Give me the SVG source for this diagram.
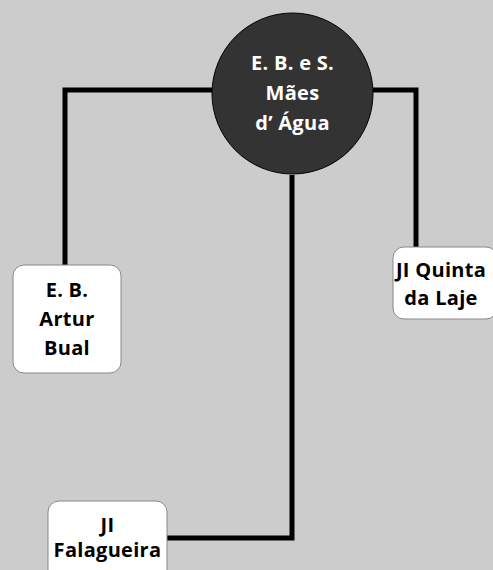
<svg xmlns="http://www.w3.org/2000/svg" width="493" height="570" viewBox="0 0 493 570">
<style>
.conn{fill:none;stroke:#000;stroke-width:5;stroke-linejoin:miter}
.box{fill:#fff;stroke:#888;stroke-width:1}
.t{font-family:"Open Sans","Liberation Sans",sans-serif;font-weight:bold;font-size:20px;letter-spacing:0.3px;text-anchor:middle;fill:#000}
.tw{fill:#fff}
</style>
<rect width="493" height="570" fill="#cccccc"/>
<g id="connectors">
<polyline class="conn" points="212,90 65,90 65,266"/>
<polyline class="conn" points="373,90 416,90 416,247"/>
<polyline class="conn" points="292,175 292,538 167,538"/>
</g>
<g id="hub">
<circle cx="292.5" cy="93.5" r="80.5" fill="#333333" stroke="#000" stroke-width="1"/>
<text class="t tw" x="292.5" y="70">E. B. e S.</text>
<text class="t tw" x="292.5" y="100">Mães</text>
<text class="t tw" x="292.5" y="130">d’ Água</text>
</g>
<g id="artur-bual">
<rect class="box" x="13" y="265" width="108" height="108" rx="11"/>
<text class="t" x="67" y="297">E. B.</text>
<text class="t" x="67" y="326">Artur</text>
<text class="t" x="67" y="355">Bual</text>
</g>
<g id="quinta-da-laje">
<rect class="box" x="393" y="247" width="104" height="72" rx="11"/>
<text class="t" x="441" y="277">JI Quinta</text>
<text class="t" x="441" y="305">da Laje</text>
</g>
<g id="falagueira">
<rect class="box" x="48" y="501" width="119" height="80" rx="11"/>
<text class="t" x="107.5" y="532">JI</text>
<text class="t" x="107.5" y="557">Falagueira</text>
</g>
</svg>
